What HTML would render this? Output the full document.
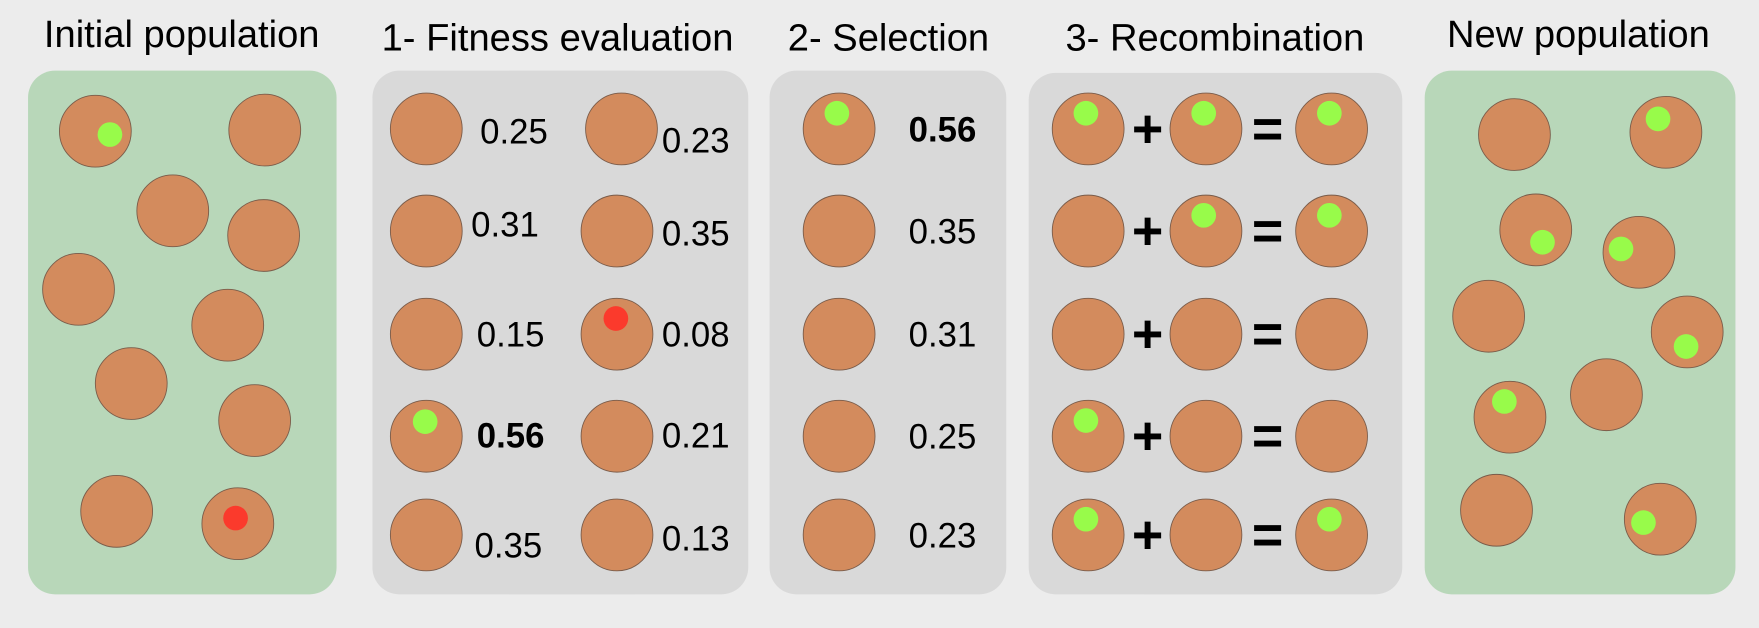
<!DOCTYPE html>
<html><head><meta charset="utf-8"><style>
html,body{margin:0;padding:0;background:#ececec;}
svg{display:block;font-family:"Liberation Sans",sans-serif;}
</style></head><body>
<svg width="1759" height="628" viewBox="0 0 1568 560" preserveAspectRatio="none">
<g font-size="34" fill="#000" text-anchor="middle">
<text x="162" y="42">Initial population</text>
<text x="497" y="45">1- Fitness evaluation</text>
<text x="792" y="45">2- Selection</text>
<text x="1083" y="45">3- Recombination</text>
<text x="1407" y="42">New population</text>
</g>
<rect x="25" y="63" width="275" height="467" rx="24" fill="#b8d7b9"/>
<rect x="332" y="63" width="335" height="467" rx="24" fill="#d9d9d9"/>
<rect x="686" y="63" width="211" height="467" rx="24" fill="#d9d9d9"/>
<rect x="917" y="65" width="333" height="465" rx="24" fill="#d9d9d9"/>
<rect x="1270" y="63" width="277" height="467" rx="24" fill="#b8d7b9"/>
<g id="marks"></g>
</svg>
<script>
const NS='http://www.w3.org/2000/svg';
const g=document.getElementById('marks');
function circ(cx,cy,dot,dx,dy){
  const c=document.createElementNS(NS,'circle');
  c.setAttribute('cx',cx);c.setAttribute('cy',cy);c.setAttribute('r',32);
  c.setAttribute('fill','#d38b5d');c.setAttribute('stroke','#7a5c4a');c.setAttribute('stroke-width','0.8');
  
  
  g.appendChild(c);
  if(dot){
    const d=document.createElementNS(NS,'circle');
    d.setAttribute('cx',dx);d.setAttribute('cy',dy);d.setAttribute('r',11);
    d.setAttribute('fill',dot==='g'?'#98fb4a':'#fb3a2c');
    
    
    g.appendChild(d);
  }
}
function txt(x,y,s,size,bold,anchor){
  const t=document.createElementNS(NS,'text');
  t.setAttribute('x',x);t.setAttribute('y',y);t.setAttribute('font-size',size);
  if(bold)t.setAttribute('font-weight','bold');
  if(anchor)t.setAttribute('text-anchor',anchor);
  t.textContent=s;
  
  
  g.appendChild(t);
}
[[85,117,'g',98,120],[236,116],[154,188],[235,210],[70,258],[203,290],[117,342],[227,375],[104,456],[212,467,'r',210,462]].forEach(a=>circ(...a));
const rows=[115,206,298,389,477];
const fit1=['0.25','0.31','0.15','0.56','0.35'], fit1y=[128,211,309,399,497], fit1x=[428,420,425,425,423];
const fit2=['0.23','0.35','0.08','0.21','0.13'], fit2y=[136,219,309,399,491];
rows.forEach((y,i)=>{
  circ(380,y,i===3?'g':null,379,376);
  txt(fit1x[i],fit1y[i],fit1[i],31,i===3);
  circ(i===0?554:550,y,i===2?'r':null,549,284);
  txt(590,fit2y[i],fit2[i],31,false);
});
const sel=['0.56','0.35','0.31','0.25','0.23'];
rows.forEach((y,i)=>{circ(748,y,i===0?'g':null,746,101);txt(810,y+11,sel[i],31,i===0);});
const rec=[[1,1,1],[0,1,1],[0,0,0],[1,0,0],[1,0,1]];
rows.forEach((y,i)=>{
  [970,1075,1187].forEach((x,j)=>circ(x,y,rec[i][j]?'g':null,x-2,y-14));
  txt(1023,y+16,'+',48,true,'middle');
  txt(1130,y+16,'=',48,true,'middle');
});
[[1350,120],[1485,118,'g',1478,106],[1369,205,'g',1375,216],[1461,225,'g',1445,222],[1327,282],[1504,296,'g',1503,309],[1346,372,'g',1341,358],[1432,352],[1334,455],[1480,463,'g',1465,466]].forEach(a=>circ(...a));
</script>
</body></html>
